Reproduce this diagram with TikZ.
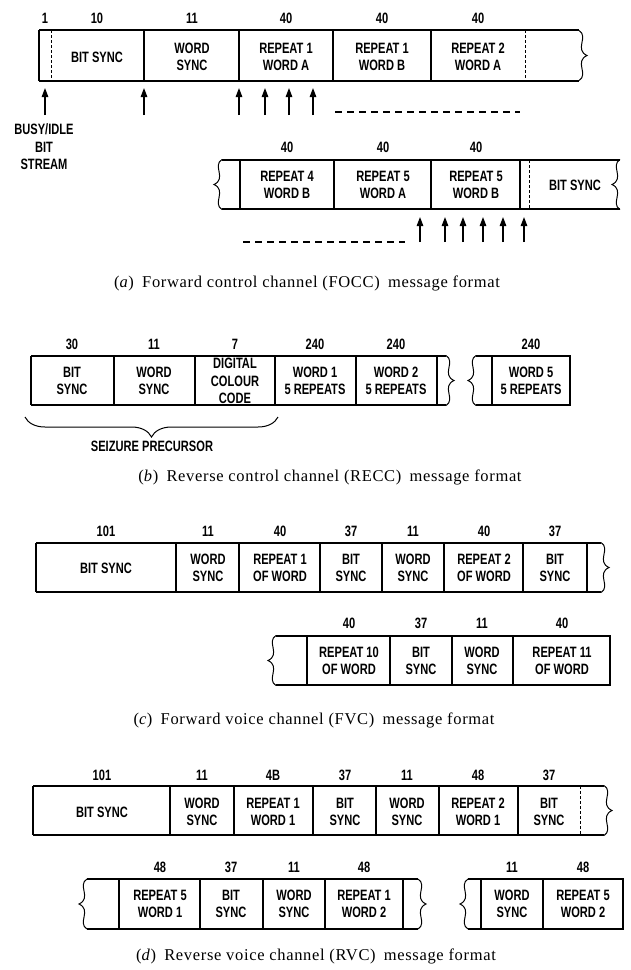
\documentclass[tikz,border=0pt]{standalone}
\usepackage{fontspec}
\setmainfont{Liberation Serif}
\newfontfamily\fieldfont[FakeStretch=0.74]{Liberation Sans}
\newfontfamily\capfont[LetterSpace=4]{Liberation Serif}
\usetikzlibrary{arrows.meta,decorations.pathreplacing}

\begin{document}
\begin{tikzpicture}[
  x=1pt, y=-1pt,
  frame/.style={line width=1.3pt},
  divider/.style={line width=1.2pt},
  broken/.style={line width=0.8pt, dash pattern=on 3pt off 2pt},
  field/.style={font=\fieldfont\bfseries\fontsize{15}{17.5}\selectfont, align=center, inner sep=0pt},
  bits/.style={font=\fieldfont\bfseries\fontsize{15}{15}\selectfont, inner sep=0pt},
  caption/.style={font=\capfont\fontsize{16.5}{20}\selectfont, inner sep=0pt},
  marker/.style={line width=1.3pt, -{Triangle[length=9pt, width=6.5pt]}},
  gap/.style={line width=1.3pt, dash pattern=on 7pt off 5pt},
  brk/.pic={\draw[line width=1pt] (0,-25) .. controls (10,-19) and (-5,-6) .. (8,0) .. controls (-5,6) and (10,19) .. (0,25);}
]
  \useasboundingbox (0,0) rectangle (630,970);

  % (a) forward control channel, first row
  \draw[frame] (39,30) -- (579,30) (39,81) -- (579,81) (39,30) -- (39,81);
  \foreach \x in {144,239,333,431} \draw[divider] (\x,30) -- (\x,81);
  \draw[broken] (51,30) -- (51,81) (525,30) -- (525,81);
  \pic at (579,55.5) {brk};
  \foreach \x/\t [count=\i] in {45/1, 97/10, 192/11, 286/40, 382/40, 478/40}
    \node[bits] (na\i) at (\x,18) {\t};
  \foreach \x/\t [count=\i] in {97/{BIT SYNC}, 192/{WORD\\SYNC}, 286/{REPEAT 1\\WORD A}, 382/{REPEAT 1\\WORD B}, 478/{REPEAT 2\\WORD A}}
    \node[field] (fa\i) at (\x,57) {\t};
  \foreach \x [count=\i] in {45,144,239,265,289,313} {
    \coordinate (ta\i) at (\x,115);
    \coordinate (ha\i) at (\x,88);
    \draw[marker] (ta\i) -- (ha\i);
  }
  \coordinate (ga1) at (335,112);
  \coordinate (ga2) at (520,112);
  \draw[gap] (ga1) -- (ga2);
  \node[field] (busy) at (44,147) {BUSY/IDLE\\BIT\\STREAM};

  % (a) second row
  \draw[frame] (222,160) -- (620,160) (222,209) -- (620,209);
  \foreach \x in {240,334,431,520} \draw[divider] (\x,160) -- (\x,209);
  \draw[broken] (529,160) -- (529,209);
  \pic[xscale=-1] at (222,184.5) {brk};
  \pic[xscale=-1] at (620,184.5) {brk};
  \foreach \x/\t [count=\i] in {287/40, 383/40, 476/40}
    \node[bits] (nb\i) at (\x,147) {\t};
  \foreach \x/\t [count=\i] in {287/{REPEAT 4\\WORD B}, 383/{REPEAT 5\\WORD A}, 476/{REPEAT 5\\WORD B}, 575/{BIT SYNC}}
    \node[field] (fb\i) at (\x,185) {\t};
  \foreach \x [count=\i] in {420,445,463,483,503,524} {
    \coordinate (tb\i) at (\x,242);
    \coordinate (hb\i) at (\x,217);
    \draw[marker] (tb\i) -- (hb\i);
  }
  \coordinate (gb1) at (243,242);
  \coordinate (gb2) at (405,242);
  \draw[gap] (gb1) -- (gb2);
  \node[caption] (capa) at (307,283) {(\textit{a})\enspace Forward control channel (FOCC)\enspace message format};

  % (b) reverse control channel
  \draw[frame] (31,356) -- (446,356) (31,405) -- (446,405) (31,356) -- (31,405);
  \foreach \x in {114,195,275,356,437} \draw[divider] (\x,356) -- (\x,405);
  \pic at (446,380.5) {brk};
  \draw[frame] (476,356) -- (570,356) -- (570,405) -- (476,405);
  \draw[divider] (492,356) -- (492,405);
  \pic[xscale=-1] at (476,380.5) {brk};
  \foreach \x/\t [count=\i] in {72/30, 154/11, 235/7, 315/240, 396/240, 531/240}
    \node[bits] (nc\i) at (\x,344) {\t};
  \foreach \x/\t [count=\i] in {72/{BIT\\SYNC}, 154/{WORD\\SYNC}, 235/{DIGITAL\\COLOUR\\CODE}, 315/{WORD 1\\5 REPEATS}, 396/{WORD 2\\5 REPEATS}, 531/{WORD 5\\5 REPEATS}}
    \node[field] (fc\i) at (\x,381) {\t};
  \draw[line width=1pt, decorate, decoration={brace, mirror, amplitude=20pt}] (25,417) -- (278,417);
  \node[field] (seize) at (152,446) {SEIZURE PRECURSOR};
  \node[caption] (capb) at (330,477) {(\textit{b})\enspace Reverse control channel (RECC)\enspace message format};

  % (c) forward voice channel, first row
  \draw[frame] (36,543) -- (601,543) (36,592) -- (601,592) (36,543) -- (36,592);
  \foreach \x in {176,239,320,382,444,523,587} \draw[divider] (\x,543) -- (\x,592);
  \pic at (601,567.5) {brk};
  \foreach \x/\t [count=\i] in {106/101, 208/11, 280/40, 351/37, 413/11, 484/40, 555/37}
    \node[bits] (nd\i) at (\x,531) {\t};
  \foreach \x/\t [count=\i] in {106/{BIT SYNC}, 208/{WORD\\SYNC}, 280/{REPEAT 1\\OF WORD}, 351/{BIT\\SYNC}, 413/{WORD\\SYNC}, 484/{REPEAT 2\\OF WORD}, 555/{BIT\\SYNC}}
    \node[field] (fd\i) at (\x,568) {\t};

  % (c) second row
  \draw[frame] (276,636) -- (610,636) -- (610,685) -- (276,685);
  \foreach \x in {307,390,452,513} \draw[divider] (\x,636) -- (\x,685);
  \pic[xscale=-1] at (276,660.5) {brk};
  \foreach \x/\t [count=\i] in {349/40, 421/37, 482/11, 562/40}
    \node[bits] (ne\i) at (\x,623) {\t};
  \foreach \x/\t [count=\i] in {349/{REPEAT 10\\OF WORD}, 421/{BIT\\SYNC}, 482/{WORD\\SYNC}, 562/{REPEAT 11\\OF WORD}}
    \node[field] (fe\i) at (\x,661) {\t};
  \node[caption] (capc) at (314,720) {(\textit{c})\enspace Forward voice channel (FVC)\enspace message format};

  % (d) reverse voice channel, first row
  \draw[frame] (33,786) -- (604,786) (33,835) -- (604,835) (33,786) -- (33,835);
  \foreach \x in {170,234,313,376,439,518} \draw[divider] (\x,786) -- (\x,835);
  \draw[broken] (580,786) -- (580,835);
  \pic at (604,810.5) {brk};
  \foreach \x/\t [count=\i] in {102/101, 202/11, 273/4B, 345/37, 407/11, 478/48, 549/37}
    \node[bits] (nf\i) at (\x,775) {\t};
  \foreach \x/\t [count=\i] in {102/{BIT SYNC}, 202/{WORD\\SYNC}, 273/{REPEAT 1\\WORD 1}, 345/{BIT\\SYNC}, 407/{WORD\\SYNC}, 478/{REPEAT 2\\WORD 1}, 549/{BIT\\SYNC}}
    \node[field] (ff\i) at (\x,812) {\t};

  % (d) second row
  \draw[frame] (87,879) -- (418,879) (87,929) -- (418,929);
  \foreach \x in {119,200,263,325,403} \draw[divider] (\x,879) -- (\x,929);
  \pic[xscale=-1] at (87,904) {brk};
  \pic at (418,904) {brk};
  \draw[frame] (468,879) -- (623,879) -- (623,929) -- (468,929);
  \foreach \x in {481,543} \draw[divider] (\x,879) -- (\x,929);
  \pic[xscale=-1] at (468,904) {brk};
  \foreach \x/\t [count=\i] in {160/48, 231/37, 294/11, 364/48, 512/11, 583/48}
    \node[bits] (ng\i) at (\x,867) {\t};
  \foreach \x/\t [count=\i] in {160/{REPEAT 5\\WORD 1}, 231/{BIT\\SYNC}, 294/{WORD\\SYNC}, 364/{REPEAT 1\\WORD 2}, 512/{WORD\\SYNC}, 583/{REPEAT 5\\WORD 2}}
    \node[field] (fg\i) at (\x,904) {\t};
  \node[caption] (capd) at (316,956) {(\textit{d})\enspace Reverse voice channel (RVC)\enspace message format};
\end{tikzpicture}
\end{document}
